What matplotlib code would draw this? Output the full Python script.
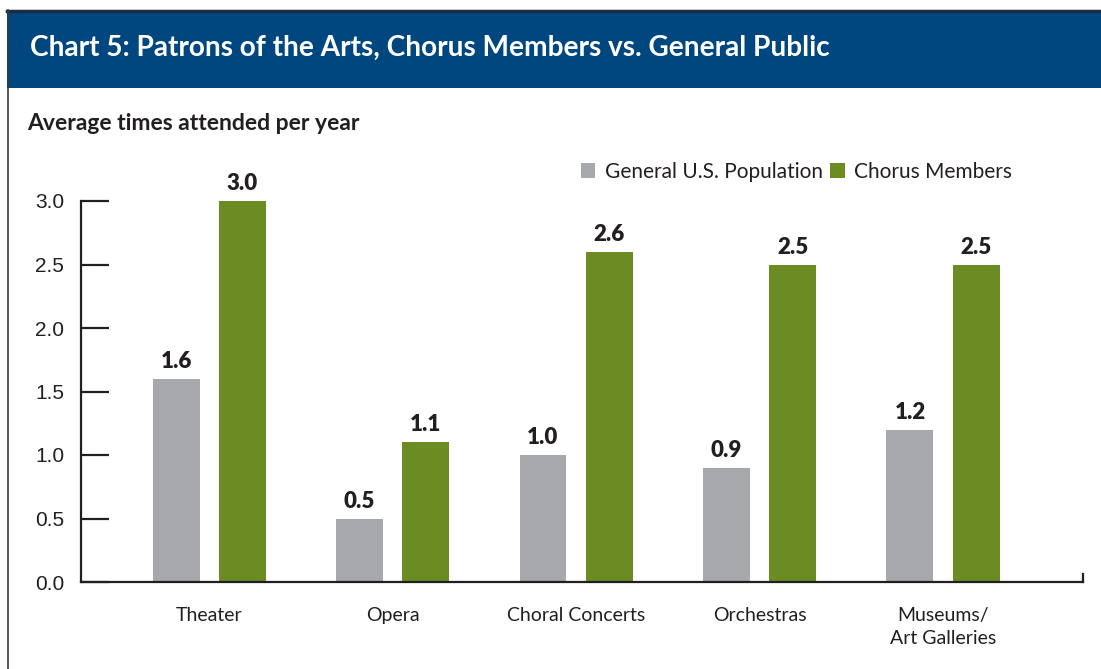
import matplotlib.pyplot as plt
import numpy as np
from matplotlib.patches import Rectangle
from matplotlib.lines import Line2D

# data
categories = ["Theater", "Opera", "Choral Concerts", "Orchestras", "Museums/\nArt Galleries"]
general_public = [1.6, 0.5, 1.0, 0.9, 1.2]
chorus_members = [3.0, 1.1, 2.6, 2.5, 2.5]
series_names = ["General U.S. Population", "Chorus Members"]
y_ticks = [0.0, 0.5, 1.0, 1.5, 2.0, 2.5, 3.0]

gray = "#a7a8ab"
green = "#6b8c23"
blue = "#00467f"
ink = "#231f20"

text_font = ["Lato", "DejaVu Sans"]
num_font = ["Liberation Sans", "DejaVu Sans"]

fig = plt.figure(figsize=(11.01, 6.69), dpi=100)
W, H = 1101, 669

# header band and frame
fig.patches.append(Rectangle((7 / W, 1 - 88 / H), 1 - 7 / W, 78 / H,
                             transform=fig.transFigure, facecolor=blue, edgecolor="none"))
fig.lines.append(Line2D([7 / W, 1], [1 - 11 / H, 1 - 11 / H], transform=fig.transFigure,
                        color="#1c2b40", lw=2.5))
fig.lines.append(Line2D([7.5 / W, 7.5 / W], [0, 1 - 10 / H], transform=fig.transFigure,
                        color="#3a3a3a", lw=1.2))
fig.text(30 / W, 1 - 48 / H, "Chart 5: Patrons of the Arts, Chorus Members vs. General Public",
         color="white", fontsize=20.2, fontweight="bold", family=text_font, va="center", ha="left")
fig.text(27 / W, 1 - 124 / H, "Average times attended per year", color=ink,
         fontsize=16.5, fontweight="bold", family=text_font, va="center", ha="left")

ax = fig.add_axes([81 / W, 1 - 582 / H, (1083 - 81) / W, (582 - 201) / H])

x = np.arange(len(categories))
width = 0.256
offset = 0.18
b1 = ax.bar(x - offset, general_public, width, color=gray, label=series_names[0])
b2 = ax.bar(x + offset, chorus_members, width, color=green, label=series_names[1])

for bars, vals in ((b1, general_public), (b2, chorus_members)):
    for rect, v in zip(bars, vals):
        ax.annotate(f"{v:.1f}", (rect.get_x() + rect.get_width() / 2, v),
                    xytext=(0, 5), textcoords="offset points", ha="center", va="bottom",
                    fontsize=16, fontweight="heavy", color=ink, family=text_font,
                    annotation_clip=False)

ax.set_xlim(-0.698, 4.763)
ax.set_ylim(0, 3.0)
ax.set_yticks(y_ticks)
ax.set_yticklabels([f"{t:.1f}" for t in y_ticks], family=num_font, fontsize=15, color=ink)
ax.tick_params(axis="y", direction="in", length=20, width=1.6, color=ink, pad=12)
ax.set_xticks(x)
ax.set_xticklabels(categories, family=text_font, fontsize=14, color=ink, linespacing=1.45)
ax.tick_params(axis="x", length=0, pad=18)

for side in ("top", "right"):
    ax.spines[side].set_visible(False)
for side in ("left", "bottom"):
    ax.spines[side].set_color(ink)
    ax.spines[side].set_linewidth(1.6)
ax.plot([1, 1], [0, 0.022], transform=ax.transAxes, color=ink, lw=1.6, clip_on=False)

leg = fig.legend(loc="center left", bbox_to_anchor=(562 / W, 1 - 172 / H), ncol=2, frameon=False,
                 handlelength=0.7, handleheight=0.7, handletextpad=0.45, columnspacing=0.35,
                 prop={"family": text_font, "size": 15})
for t in leg.get_texts():
    t.set_color(ink)

fig.savefig("out.png", dpi=100)
